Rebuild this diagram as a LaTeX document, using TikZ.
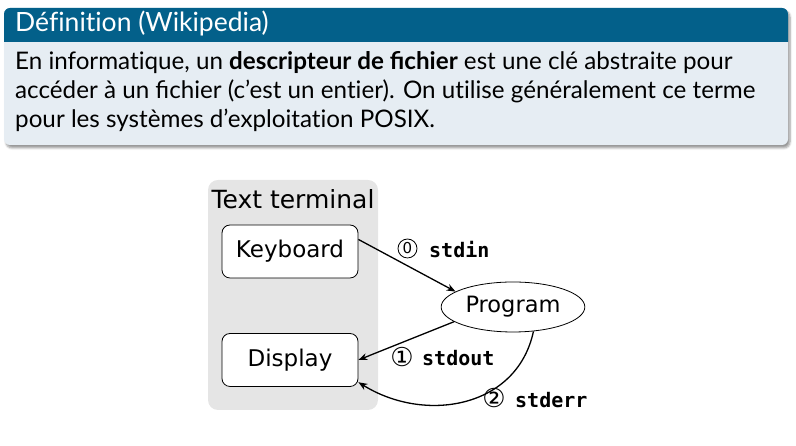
\documentclass[tikz,border=0pt]{standalone}
\usepackage{fontspec}
\setmainfont{Lato}[Ligatures=NoCommon]
\newfontfamily\dejavu{DejaVu Sans}
\newfontfamily\dejamono{DejaVu Sans Mono}
\usetikzlibrary{shapes.geometric,shadows.blur,arrows.meta}
\definecolor{titrebleu}{HTML}{03608A}
\definecolor{corpsbleu}{HTML}{E6EDF3}
\definecolor{panelgris}{HTML}{E5E5E5}
\tikzset{
  boite/.style={draw,thick,rounded corners=8pt,minimum width=136pt,minimum height=53pt,fill=white,font=\dejavu\fontsize{23}{26}\selectfont},
  fleche/.style={-{Stealth[length=9pt,width=7pt]},line width=1.3pt},
  chiffre/.style={inner sep=0pt,font=\dejavu\fontsize{26}{28}\selectfont},
  mono/.style={anchor=west,inner sep=0pt,font=\dejamono\bfseries\fontsize{20}{24}\selectfont}
}
\begin{document}
\begin{tikzpicture}[x=1pt,y=1pt]
    \useasboundingbox (0,0) rectangle (796,446);
    % Ombre et fond du bloc
    \fill[corpsbleu,rounded corners=6pt,blur shadow={shadow xshift=2pt,shadow yshift=-3pt,shadow blur steps=6}] (4,301) rectangle (788,438);
    % Barre de titre
    \fill[titrebleu] (4,404) {[rounded corners=6pt] -- (4,438) -- (788,438)} -- (788,404) -- cycle;
    \node[anchor=base west,inner sep=0pt,text=white,font=\fontsize{26.5}{28}\selectfont] (titre) at (15,414) {Définition (Wikipedia)};
    % Texte de la définition
    \node[anchor=base west,inner sep=0pt,font=\fontsize{24.2}{29}\selectfont] (ligne1) at (15,376)
      {En informatique, un \textbf{descripteur de ﬁchier} est une clé abstraite pour};
    \node[anchor=base west,inner sep=0pt,font=\fontsize{24.2}{29}\selectfont] (ligne2) at (15,347)
      {accéder à un ﬁchier (c’est un entier). On utilise généralement ce terme};
    \node[anchor=base west,inner sep=0pt,font=\fontsize{24.2}{29}\selectfont] (ligne3) at (15,318)
      {pour les systèmes d’exploitation POSIX.};
    % Terminal texte
    \node[fill=panelgris,rounded corners=10pt,minimum width=170pt,minimum height=230pt] (terminal) at (293,151) {};
    \node[anchor=base,font=\dejavu\fontsize{25}{28}\selectfont] (tlabel) at ([yshift=-29pt]terminal.north) {Text terminal};
    \node[boite] (keyboard) at (290,194.5) {Keyboard};
    \node[boite] (display) at (290,86) {Display};
    % Programme
    \node[ellipse,draw,thick,minimum width=137pt,minimum height=50pt,fill=white,font=\dejavu\fontsize{22.5}{26}\selectfont] (program) at (513,139) {Program};
    % Flux
    \draw[fleche] (keyboard.10) -- (program.165);
    \draw[fleche] (program.194) -- (display.east);
    \draw[fleche] (program.-50) to[out=-102,in=-32,looseness=1.1] (display.-18);
    % Etiquettes
    \node[circle,draw,line width=0.8pt,inner sep=0pt,minimum size=19pt,font=\dejavu\fontsize{15}{16}\selectfont] (c0) at (407.5,197.5) {0};
    \node[mono] (lin) at (429,196) {stdin};
    \node[chiffre] (c1) at (402,89) {①};
    \node[mono] (lout) at (422,88) {stdout};
    \node[chiffre] (c2) at (494,47.5) {②};
    \node[mono] (lerr) at (515,46) {stderr};
\end{tikzpicture}
\end{document}
